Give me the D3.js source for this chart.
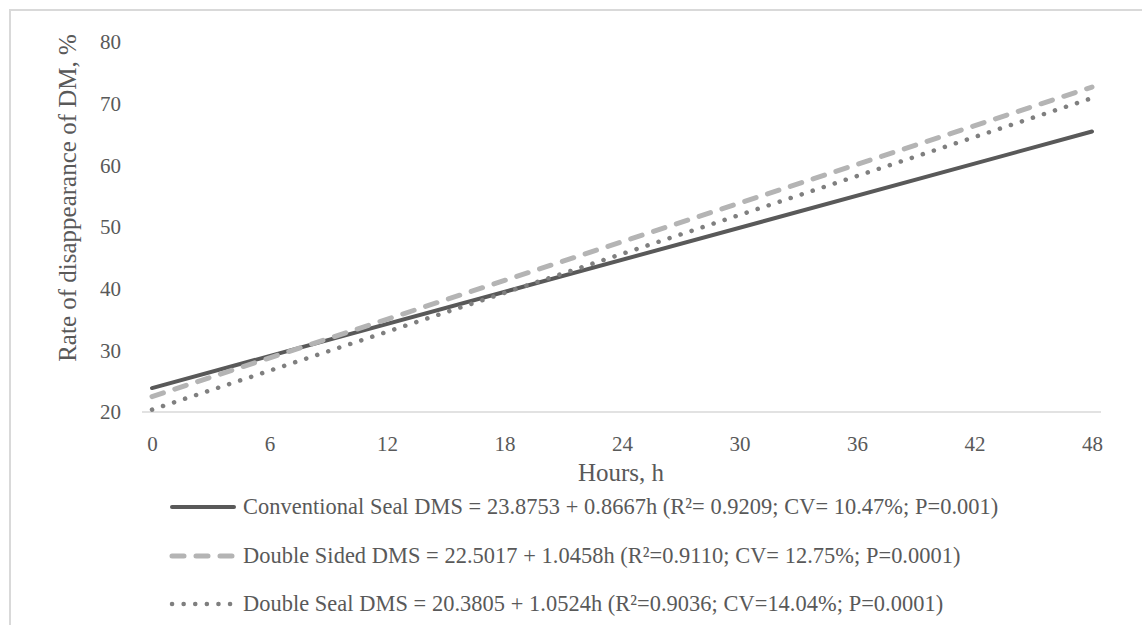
<!DOCTYPE html>
<html><head><meta charset="utf-8">
<script src="https://cdn.jsdelivr.net/npm/d3@7"></script>
<style>body{margin:0;background:#fff}svg{display:block}</style>
</head><body><svg id="c" width="1142" height="625"></svg>
<script>
const hours = [0, 48];
const xTicks = [0, 6, 12, 18, 24, 30, 36, 42, 48];
const yTicks = [20, 30, 40, 50, 60, 70, 80];
const seriesNames = ["Conventional Seal", "Double Sided", "Double Seal"];
const intercepts = [23.8753, 22.5017, 20.3805];
const slopes = [0.8667, 1.0458, 1.0524];
const legendTexts = [
  "Conventional Seal DMS = 23.8753 + 0.8667h (R\u00B2= 0.9209; CV= 10.47%; P=0.001)",
  "Double Sided DMS = 22.5017 + 1.0458h (R\u00B2=0.9110; CV= 12.75%; P=0.0001)",
  "Double Seal DMS = 20.3805 + 1.0524h (R\u00B2=0.9036; CV=14.04%; P=0.0001)"
];
// endpoint values of each fitted line (read as y at h=0 and h=48)
const seriesValues = [
  [23.88, 65.48],
  [22.50, 72.70],
  [20.38, 70.90]
];

const styles = [
  {color: "#595959", width: 4, dash: null, cap: "round"},
  {color: "#b4b4b4", width: 5, dash: "12,12", cap: "round"},
  {color: "#7f7f7f", width: 4.5, dash: "0.1,11.5", cap: "round"}
];

const svg = d3.select("#c");
const font = "'Liberation Serif','Times New Roman',serif";
const txt = "#595959";

// outer border
svg.append("rect").attr("x", 10).attr("y", 10).attr("width", 1200).attr("height", 700)
  .attr("fill", "none").attr("stroke", "#d9d9d9").attr("stroke-width", 2);

const x = d3.scaleLinear().domain([0, 48]).range([152, 1092]);
const y = d3.scaleLinear().domain([20, 80]).range([412, 42]);

// baseline
svg.append("line").attr("x1", 142).attr("x2", 1101).attr("y1", y(20)).attr("y2", y(20))
  .attr("stroke", "#d9d9d9").attr("stroke-width", 1.3);

// y tick labels
const yAxis = d3.axisLeft(y).tickValues(yTicks).tickSize(0).tickPadding(0);
const gy = svg.append("g").attr("transform", "translate(121,0)").call(yAxis);
gy.select(".domain").remove();
gy.selectAll("text").attr("font-family", font).attr("font-size", 21).attr("fill", txt);

// x tick labels
const xAxis = d3.axisBottom(x).tickValues(xTicks).tickSize(0).tickPadding(0);
const gx = svg.append("g").attr("transform", "translate(0,436)").call(xAxis);
gx.select(".domain").remove();
gx.selectAll("text").attr("font-family", font).attr("font-size", 21).attr("fill", txt);

// axis titles
svg.append("text").attr("x", 621).attr("y", 481).attr("text-anchor", "middle")
  .attr("font-family", font).attr("font-size", 25).attr("fill", txt).text("Hours, h");
svg.append("text").attr("transform", "translate(76,198) rotate(-90)").attr("text-anchor", "middle")
  .attr("font-family", font).attr("font-size", 25).attr("fill", txt).text("Rate of disappearance of DM, %");

// lines
const line = d3.line().x(d => x(d[0])).y(d => y(d[1]));
seriesValues.forEach((vals, i) => {
  const pts = hours.map((h, j) => [h, vals[j]]);
  const s = styles[i];
  const p = svg.append("path").datum(pts).attr("d", line).attr("fill", "none")
    .attr("stroke", s.color).attr("stroke-width", s.width).attr("stroke-linecap", s.cap);
  if (s.dash) p.attr("stroke-dasharray", s.dash);
});

// legend
const legY = [507, 556, 604];
legendTexts.forEach((t, i) => {
  const s = styles[i];
  const l = svg.append("line").attr("x1", 172).attr("x2", 234).attr("y1", legY[i]).attr("y2", legY[i])
    .attr("stroke", s.color).attr("stroke-width", s.width).attr("stroke-linecap", s.cap);
  if (s.dash) l.attr("stroke-dasharray", s.dash);
  svg.append("text").attr("x", 243).attr("y", legY[i] + 7).attr("font-family", font)
    .attr("font-size", 22.4).attr("letter-spacing", 0.05).attr("fill", txt).text(t);
});
</script>
</body></html>
